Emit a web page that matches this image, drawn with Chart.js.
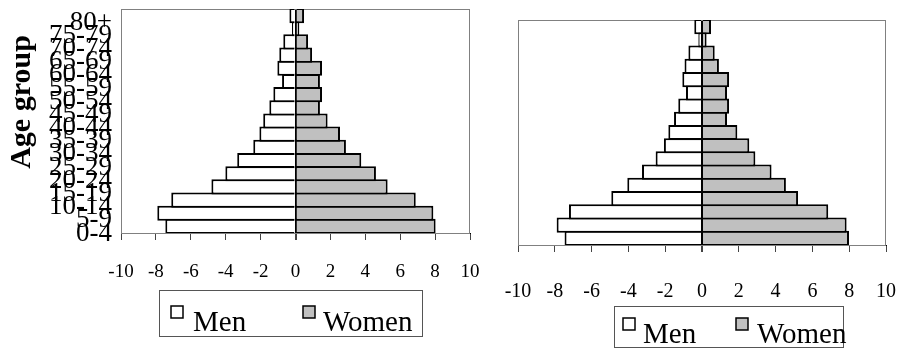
<!DOCTYPE html>
<html>
<head>
<meta charset="utf-8">
<script src="https://cdn.jsdelivr.net/npm/chart.js@4"></script>
<style>
  body { margin: 0; background: #fff; }
  canvas { position: absolute; top: 0; }
  #leftChart { left: 0; }
  #rightChart { left: 490px; }
</style>
</head>
<body>
<canvas id="leftChart" width="490" height="350"></canvas>
<canvas id="rightChart" width="413" height="350"></canvas>
<script>
// age groups, bottom to top
const ageGroups = ['0-4', '5-9', '10-14', '15-19', '20-24', '25-29', '30-34', '35-39', '40-44',
    '45-49', '50-54', '55-59', '60-64', '65-69', '70-74', '75-79', '80+'];

// left pyramid (% of population, men negative)
const menLeft = [-7.46, -7.92, -7.12, -4.82, -4.02, -3.34, -2.42, -2.07, -1.85, -1.5, -1.27, -0.77, -1.04, -0.93, -0.7, -0.2, -0.35];
const womenLeft = [8.03, 7.9, 6.89, 5.28, 4.61, 3.77, 2.89, 2.55, 1.84, 1.4, 1.52, 1.4, 1.52, 0.95, 0.72, 0.22, 0.49];

// right pyramid
const menRight = [-7.47, -7.9, -7.23, -4.93, -4.06, -3.26, -2.52, -2.07, -1.83, -1.52, -1.29, -0.87, -1.07, -0.95, -0.74, -0.2, -0.42];
const womenRight = [7.99, 7.86, 6.86, 5.22, 4.56, 3.78, 2.9, 2.57, 1.92, 1.36, 1.47, 1.36, 1.47, 0.92, 0.69, 0.25, 0.49];

const xTickValues = [-10, -8, -6, -4, -2, 0, 2, 4, 6, 8, 10];
const seriesNames = ['Men', 'Women'];
const yTitle = 'Age group';

const SERIF = '"Liberation Serif", "DejaVu Serif", serif';

// frame around the plot, axis title and boxed legend
const excelBits = {
    id: 'excelBits',
    beforeDatasetsDraw(chart) {
        const a = chart.chartArea;
        const c = chart.ctx;
        c.save();
        c.strokeStyle = '#808080';
        c.lineWidth = 1;
        c.strokeRect(a.left + 0.5, a.top + 0.5, a.right - a.left - 1, a.bottom - a.top);
        c.restore();
    },
    afterDraw(chart, args, opts) {
        const c = chart.ctx;
        c.save();
        if (opts.title) {
            c.translate(opts.title.x, opts.title.y);
            c.rotate(-Math.PI / 2);
            c.font = 'bold 30px ' + SERIF;
            c.fillStyle = '#000';
            c.textAlign = 'center';
            c.textBaseline = 'alphabetic';
            c.fillText(opts.title.text, 0, 0);
            c.setTransform(1, 0, 0, 1, 0, 0);
        }
        const L = opts.legend;
        c.strokeStyle = '#555';
        c.lineWidth = 1;
        c.strokeRect(L.box[0] + 0.5, L.box[1] + 0.5, L.box[2], L.box[3]);
        c.font = L.size + 'px ' + SERIF;
        c.textBaseline = 'alphabetic';
        c.textAlign = 'left';
        chart.data.datasets.forEach((ds, i) => {
            const it = L.items[i];
            c.fillStyle = ds.backgroundColor;
            c.fillRect(it.sq, L.sqY, 12, 12);
            c.strokeStyle = '#000';
            c.lineWidth = 1.5;
            c.strokeRect(it.sq, L.sqY, 12, 12);
            c.fillStyle = '#000';
            c.fillText(ds.label, it.tx, L.base);
        });
        c.restore();
    }
};

function makePyramid(id, men, women, cfg) {
    return new Chart(document.getElementById(id), {
        type: 'bar',
        data: {
            labels: ageGroups,
            datasets: [
                { label: seriesNames[0], data: men, backgroundColor: '#ffffff' },
                { label: seriesNames[1], data: women, backgroundColor: '#c0c0c0' }
            ]
        },
        options: {
            indexAxis: 'y',
            responsive: false,
            animation: false,
            devicePixelRatio: 1,
            layout: { padding: cfg.padding },
            datasets: {
                bar: {
                    borderColor: '#000',
                    borderWidth: 2,
                    categoryPercentage: 1,
                    barPercentage: 1.15
                }
            },
            scales: {
                x: {
                    stacked: true,
                    min: -10,
                    max: 10,
                    z: 1,
                    afterBuildTicks: s => { s.ticks = xTickValues.map(v => ({ value: v })); },
                    afterFit: s => { s.height = cfg.xHeight; s.paddingLeft = 0; s.paddingRight = 0; },
                    grid: {
                        color: ctx => ctx.tick && ctx.tick.value === 0 ? '#000' : 'rgba(0,0,0,0)',
                        lineWidth: ctx => ctx.tick && ctx.tick.value === 0 ? 2 : 1,
                        tickColor: '#444',
                        tickLength: 7
                    },
                    border: { color: '#000', width: 1 },
                    ticks: {
                        color: '#000',
                        padding: cfg.tickPad,
                        maxRotation: 0,
                        font: { family: SERIF, size: cfg.tickSize }
                    }
                },
                y: {
                    stacked: true,
                    reverse: true,
                    afterFit: s => { s.width = cfg.yWidth; s.paddingTop = 0; s.paddingBottom = 0; },
                    grid: { display: false, drawTicks: false },
                    border: { color: '#808080', width: 1 },
                    ticks: {
                        display: cfg.yLabels,
                        autoSkip: false,
                        color: '#000',
                        padding: 9,
                        labelOffset: 7,
                        font: { family: SERIF, size: 27 }
                    }
                }
            },
            plugins: {
                legend: { display: false },
                tooltip: { enabled: false },
                excelBits: { title: cfg.title, legend: cfg.legend }
            }
        },
        plugins: [excelBits]
    });
}

makePyramid('leftChart', menLeft, womenLeft, {
    padding: { left: 0, right: 20, top: 9, bottom: 0 },
    xHeight: 117,
    yWidth: 121,
    yLabels: true,
    tickPad: 21,
    tickSize: 19,
    title: { text: yTitle, x: 30, y: 102 },
    legend: {
        box: [159, 290, 263, 46],
        size: 29,
        sqY: 306,
        base: 331,
        items: [{ sq: 171, tx: 193 }, { sq: 303, tx: 323 }]
    }
});

makePyramid('rightChart', menRight, womenRight, {
    padding: { left: 28, right: 17, top: 20, bottom: 0 },
    xHeight: 105,
    yWidth: 0,
    yLabels: false,
    tickPad: 28,
    tickSize: 20,
    title: null,
    legend: {
        box: [124, 306, 229, 41],
        size: 29,
        sqY: 318,
        base: 343,
        items: [{ sq: 133, tx: 153 }, { sq: 246, tx: 267 }]
    }
});
</script>
</body>
</html>
